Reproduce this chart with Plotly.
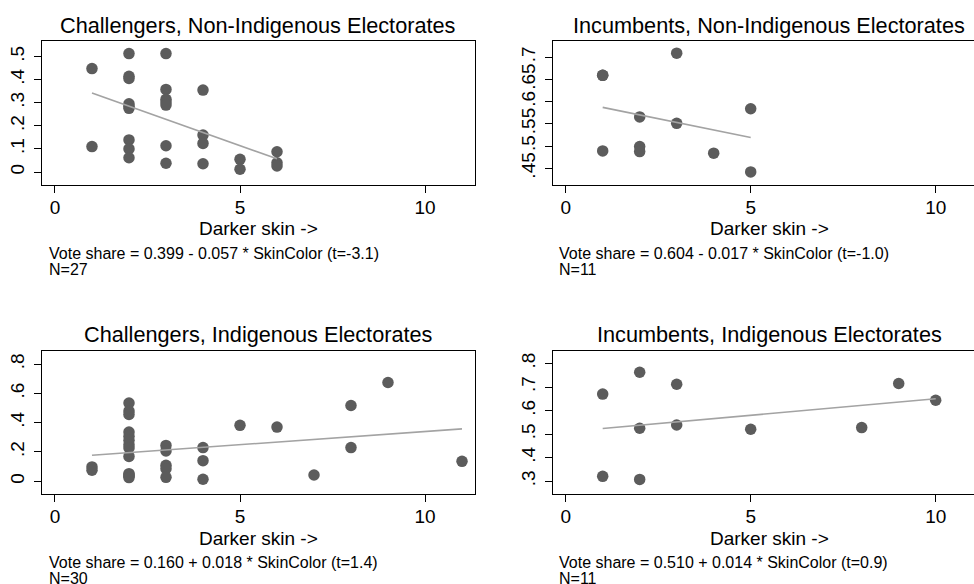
import plotly.graph_objects as go

W, H = 974, 584

# ---------------- data ----------------
titles = [
    "Challengers, Non-Indigenous Electorates",
    "Incumbents, Non-Indigenous Electorates",
    "Challengers, Indigenous Electorates",
    "Incumbents, Indigenous Electorates",
]

# Challengers, non-indigenous
chal_non_x = [1, 1,
              2, 2, 2, 2, 2, 2, 2, 2, 2,
              3, 3, 3, 3, 3, 3, 3,
              4, 4, 4, 4,
              5, 5,
              6, 6, 6]
chal_non_y = [0.448, 0.110,
              0.513, 0.415, 0.405, 0.296, 0.285, 0.276, 0.139, 0.100, 0.062,
              0.513, 0.358, 0.315, 0.303, 0.290, 0.114, 0.038,
              0.355, 0.160, 0.124, 0.036,
              0.055, 0.012,
              0.088, 0.040, 0.026]

# Incumbents, non-indigenous
inc_non_x = [1, 1, 1, 2, 2, 2, 3, 3, 4, 5, 5]
inc_non_y = [0.659, 0.659, 0.489, 0.5655, 0.4987, 0.4875, 0.709, 0.551, 0.484, 0.584, 0.4417]

# Challengers, indigenous
chal_ind_x = [1, 1,
              2, 2, 2, 2, 2, 2, 2, 2, 2, 2, 2, 2, 2,
              3, 3, 3, 3, 3,
              4, 4, 4,
              5, 6, 7, 8, 8, 9, 11]
chal_ind_y = [0.098, 0.075,
              0.534, 0.480, 0.457, 0.336, 0.307, 0.280, 0.250, 0.227, 0.170, 0.052, 0.045, 0.035, 0.025,
              0.245, 0.207, 0.109, 0.086, 0.027,
              0.230, 0.141, 0.014,
              0.382, 0.370, 0.043, 0.518, 0.230, 0.675, 0.136]

# Incumbents, indigenous
inc_ind_x = [1, 1, 2, 2, 2, 3, 3, 5, 8, 9, 10]
inc_ind_y = [0.670, 0.321, 0.763, 0.525, 0.308, 0.712, 0.539, 0.521, 0.528, 0.715, 0.644]

# regression results printed under each panel
intercepts = [0.399, 0.604, 0.160, 0.510]
slopes = [-0.057, -0.017, 0.018, 0.014]
tstats = [-3.1, -1.0, 1.4, 0.9]

x_tickvals = [0, 5, 10]
x_ticktext = ["0", "5", "10"]
y_tickvals = [
    [0, 0.1, 0.2, 0.3, 0.4, 0.5],
    [0.45, 0.5, 0.55, 0.6, 0.65, 0.7],
    [0, 0.2, 0.4, 0.6, 0.8],
    [0.3, 0.4, 0.5, 0.6, 0.7, 0.8],
]
y_ticktext = [
    ["0", ".1", ".2", ".3", ".4", ".5"],
    [".45", ".5", ".55", ".6", ".65", ".7"],
    ["0", ".2", ".4", ".6", ".8"],
    [".3", ".4", ".5", ".6", ".7", ".8"],
]
x_title = "Darker skin ->"

xs = [chal_non_x, inc_non_x, chal_ind_x, inc_ind_x]
ys = [chal_non_y, inc_non_y, chal_ind_y, inc_ind_y]

# ---------------- layout geometry (pixels) ----------------
FONT = "Liberation Sans, Arial, Helvetica, sans-serif"
MARKER = "#5c5c5c"
FITLINE = "#a3a3a3"

col_x = [(42, 474.7), (552.7, 974)]
row_y = [(40.7, 184.7), (351, 494)]
x_ranges = [(-0.351, 11.343), (-0.351, 11.035)]
y_ranges = [(-0.055, 0.569), (0.413, 0.737), (-0.087, 0.890), (0.246, 0.853)]
title_py = [25.8, 334.8]
xtitle_py = [228.3, 538.0]
note_py = [(253.8, 269.3), (562.8, 578.0)]
note_px = [46.7, 557.0]


def px2fx(p):
    return p / W


def py2fy(p):
    return 1 - p / H


fig = go.Figure()
annotations = []

for i in range(4):
    r, c = divmod(i, 2)
    n = i + 1
    xa = "x" if n == 1 else f"x{n}"
    ya = "y" if n == 1 else f"y{n}"

    fig.add_trace(go.Scatter(
        x=xs[i], y=ys[i], mode="markers",
        marker=dict(color=MARKER, size=11.5, line=dict(width=0)),
        xaxis=xa, yaxis=ya, showlegend=False, hoverinfo="skip",
    ))
    xmin, xmax = min(xs[i]), max(xs[i])
    fig.add_trace(go.Scatter(
        x=[xmin, xmax],
        y=[intercepts[i] + slopes[i] * xmin, intercepts[i] + slopes[i] * xmax],
        mode="lines", line=dict(color=FITLINE, width=1.6),
        xaxis=xa, yaxis=ya, showlegend=False, hoverinfo="skip",
    ))

    x0, x1 = col_x[c]
    y0, y1 = row_y[r]
    axis_common = dict(
        showgrid=False, zeroline=False, showline=True, linecolor="black",
        linewidth=1.3, ticks="outside", ticklen=7, tickwidth=1.1,
        tickcolor="black", tickfont=dict(family=FONT, size=19, color="black"),
    )
    fig.update_layout(**{
        ("xaxis" if n == 1 else f"xaxis{n}"): dict(
            domain=[px2fx(x0), px2fx(x1)], anchor=ya,
            range=list(x_ranges[c]), tickvals=x_tickvals, ticktext=x_ticktext,
            mirror=True, ticklabelstandoff=-2, **axis_common),
        ("yaxis" if n == 1 else f"yaxis{n}"): dict(
            domain=[py2fy(y1), py2fy(y0)], anchor=xa,
            range=list(y_ranges[i]), tickvals=y_tickvals[i], ticktext=y_ticktext[i],
            tickangle=-90, mirror=(c == 0), ticklabelstandoff=2, **axis_common),
    })

    xmid = (x_ranges[0][0] + x_ranges[0][1]) / 2
    annotations.append(dict(
        text=titles[i], xref=xa, x=xmid, yref="paper", y=py2fy(title_py[r]),
        xanchor="center", yanchor="middle", showarrow=False,
        font=dict(family=FONT, size=21.7, color="black")))
    annotations.append(dict(
        text=x_title, xref=xa, x=xmid, yref="paper", y=py2fy(xtitle_py[r]),
        xanchor="center", yanchor="middle", showarrow=False,
        font=dict(family=FONT, size=19, color="black")))
    sign = "+" if slopes[i] >= 0 else "-"
    note1 = (f"Vote share = {intercepts[i]:.3f} {sign} {abs(slopes[i]):.3f} * "
             f"SkinColor (t={tstats[i]:.1f})")
    note2 = f"N={len(xs[i])}"
    for txt, py in zip([note1, note2], note_py[r]):
        annotations.append(dict(
            text=txt, xref="paper", x=px2fx(note_px[c]), yref="paper", y=py2fy(py),
            xanchor="left", yanchor="middle", showarrow=False,
            font=dict(family=FONT, size=16, color="black")))

fig.update_layout(
    width=W, height=H, margin=dict(l=0, r=0, t=0, b=0),
    paper_bgcolor="white", plot_bgcolor="white",
    annotations=annotations, showlegend=False,
)

fig.write_html("out.html", config={"displayModeBar": False},
               post_script="document.body.style.margin='0px';")
